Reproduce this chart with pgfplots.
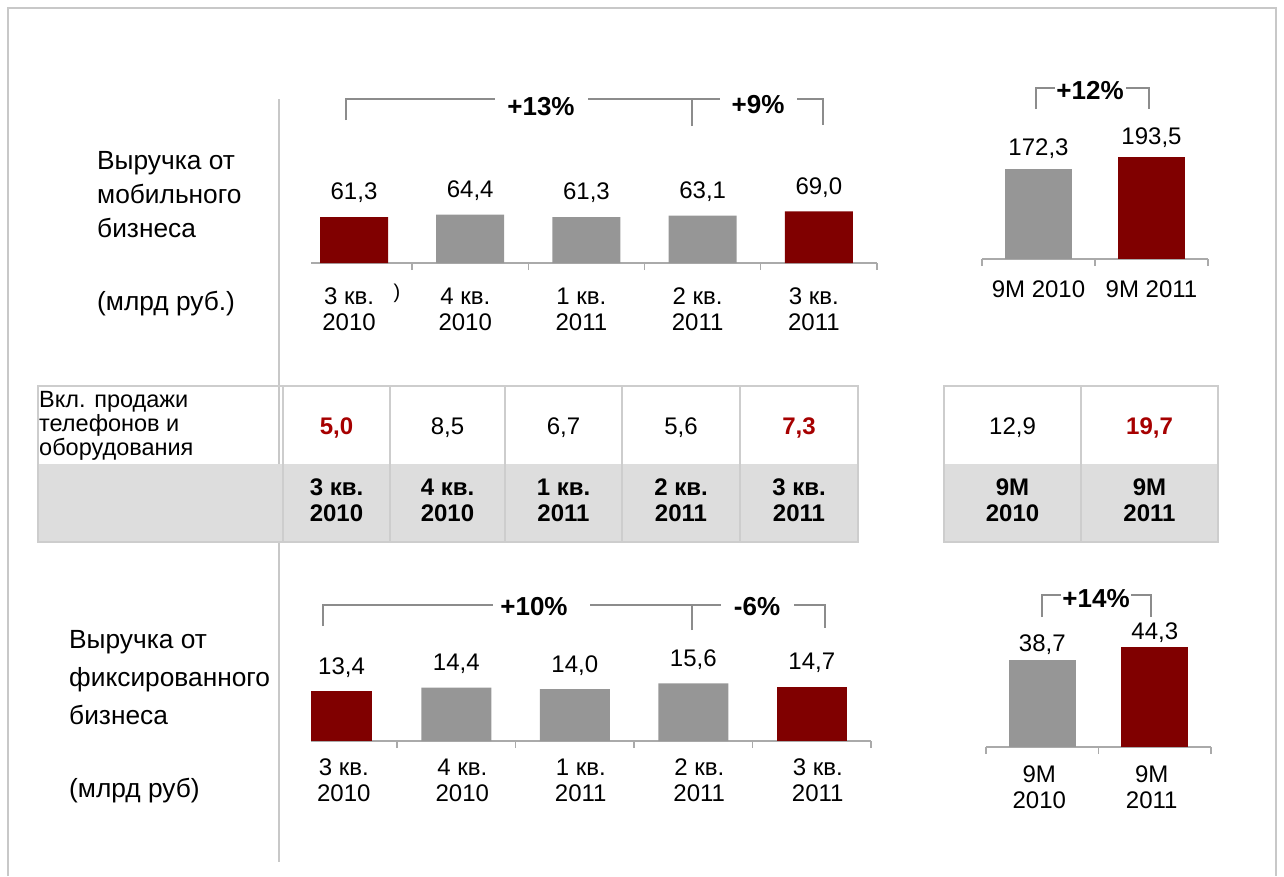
\documentclass[border=0pt]{standalone}
\usepackage{fontspec}
\setmainfont{Liberation Sans}
\usepackage{pgfplots}
\pgfplotsset{compat=1.18}

\definecolor{barred}{RGB}{128,0,0}
\definecolor{bargray}{RGB}{150,150,150}
\definecolor{txtred}{RGB}{166,0,0}
\definecolor{framegray}{RGB}{200,200,200}
\definecolor{axisgray}{RGB}{170,170,170}
\definecolor{brgray}{RGB}{140,140,140}
\definecolor{rowgray}{RGB}{221,221,221}
\definecolor{cellline}{RGB}{205,205,205}

\newcommand\valfont{\fontsize{24}{26}\selectfont}
\newcommand\lblfont{\fontsize{26.3}{30}\selectfont}
\newcommand\tblfont{\fontsize{23.5}{24}\selectfont}
\newcommand\pctfont{\fontsize{26}{28}\selectfont\bfseries}

\pgfplotsset{
  revbars/.style={
    scale only axis, clip=false, anchor=south west,
    ybar, ymin=0, enlargelimits=false,
    axis x line*=bottom, axis y line=none,
    axis line style={axisgray, line width=1.3pt},
    major tick length=0pt, minor tick length=7pt, tick align=outside,
    minor tick style={axisgray, line width=1.3pt},
    xticklabel style={font=\valfont, align=center, inner sep=0pt},
    nodes near coords,
    nodes near coords style={font=\valfont, anchor=center, text=black},
    /pgf/number format/use comma,
    /pgf/number format/fixed,
    /pgf/number format/fixed zerofill,
    /pgf/number format/precision=1,
    /pgf/number format/assume math mode=true,
  },
}

\begin{document}
\begin{tikzpicture}
\useasboundingbox (0pt,0pt) rectangle (1284pt,-876pt);

% mobile, quarters
\begin{axis}[revbars, at={(311pt,-263pt)}, width=566pt, height=75pt,
  xmin=-0.37, xmax=4.5, ymax=100, bar width=68pt,
  xtick={0,...,4}, minor xtick={0.5,1.5,2.5,3.5,4.5},
  xticklabels={{3 кв.\\2010},{4 кв.\\2010},{1 кв.\\2011},{2 кв.\\2011},{3 кв.\\2011}},
  xticklabel style={yshift=-25pt, xshift=-5pt},
  nodes near coords style={yshift=24pt}]
\addplot[fill=barred, draw=none, bar shift=0pt] coordinates {(0,61.3) (4,69.0)};
\addplot[fill=bargray, draw=none, bar shift=0pt] coordinates {(1,64.4) (2,61.3) (3,63.1)};
\end{axis}

% mobile, 9 months
\begin{axis}[revbars, at={(982pt,-259pt)}, width=226pt, height=105pt,
  xmin=-0.5, xmax=1.5, ymax=200, bar width=67pt,
  xtick={0,1}, minor xtick={-0.5,0.5,1.5},
  xticklabels={9M 2010, 9M 2011},
  xticklabel style={yshift=-22pt},
  nodes near coords style={yshift=20pt}]
\addplot[fill=bargray, draw=none, bar shift=0pt] coordinates {(0,172.3)};
\addplot[fill=barred, draw=none, bar shift=0pt] coordinates {(1,193.5)};
\end{axis}

% fixed, quarters
\begin{axis}[revbars, at={(311pt,-741pt)}, width=560pt, height=74pt,
  xmin=-0.226, xmax=4.5, ymax=20, bar width=70pt,
  xtick={0,...,4}, minor xtick={0.5,1.5,2.5,3.5,4.5},
  xticklabels={{3 кв.\\2010},{4 кв.\\2010},{1 кв.\\2011},{2 кв.\\2011},{3 кв.\\2011}},
  xticklabel style={yshift=-18pt, xshift=6pt},
  nodes near coords style={yshift=24pt}]
\addplot[fill=barred, draw=none, bar shift=3.75pt, bar width=61pt] coordinates {(0,13.4)};
\addplot[fill=bargray, draw=none, bar shift=0pt] coordinates {(1,14.4) (2,14.0) (3,15.6)};
\addplot[fill=barred, draw=none, bar shift=0pt] coordinates {(4,14.7)};
\end{axis}

% fixed, 9 months
\begin{axis}[revbars, at={(986pt,-747pt)}, width=225pt, height=112.5pt,
  xmin=-0.5, xmax=1.5, ymax=50, bar width=67pt,
  xtick={0,1}, minor xtick={-0.5,0.5,1.5},
  xticklabels={{9M\\2010},{9M\\2011}},
  xticklabel style={yshift=-19pt, xshift=-3pt},
  nodes near coords style={yshift=15pt}]
\addplot[fill=bargray, draw=none, bar shift=0pt] coordinates {(0,38.7)};
\addplot[fill=barred, draw=none, bar shift=0pt] coordinates {(1,44.3)};
\end{axis}

\begin{scope}[x=1pt, y=-1pt]
% frame and divider
\draw[framegray, line width=2.5pt] (8,876) -- (8,8) -- (1276,8) -- (1276,876);
\draw[framegray, line width=1.5pt] (279,99) -- (279,862);

% row captions
\begin{scope}[every node/.style={anchor=base west, font=\lblfont, inner sep=0pt}]
\node at (97,169) {Выручка от};
\node at (97,203) {мобильного};
\node at (97,237) {бизнеса};
\node at (97,310) {(млрд руб.)};
\node at (69,648) {Выручка от};
\node at (69,686) {фиксированного};
\node at (69,724) {бизнеса};
\node at (69,797) {(млрд руб)};
\end{scope}
\node[anchor=base, font=\fontsize{20}{22}\selectfont, inner sep=0pt] at (397,298) {)};

% table
\fill[rowgray] (38,464) rectangle (858,542);
\fill[rowgray] (944,464) rectangle (1218,542);
\draw[cellline, line width=1.2pt] (38,386) rectangle (858,542);
\draw[cellline, line width=1.2pt] (944,386) rectangle (1218,542);
\foreach \c in {283,390,505,622,740} \draw[cellline, line width=1.2pt] (\c,386) -- (\c,542);
\draw[cellline, line width=1.2pt] (1081,386) -- (1081,542);
\begin{scope}[every node/.style={anchor=base west, font=\tblfont, inner sep=0pt}]
\node at (39,407) {Вкл. продажи};
\node at (39,431) {телефонов и};
\node at (39,455) {оборудования};
\end{scope}
\begin{scope}[every node/.style={anchor=base, font=\valfont, inner sep=0pt}]
\node[font=\valfont\bfseries, text=txtred] at (336.5,434) {5,0};
\node at (447.5,434) {8,5};
\node at (563.5,434) {6,7};
\node at (681,434) {5,6};
\node[font=\valfont\bfseries, text=txtred] at (799,434) {7,3};
\node at (1012.5,434) {12,9};
\node[font=\valfont\bfseries, text=txtred] at (1149.5,434) {19,7};
\end{scope}
\begin{scope}[every node/.style={anchor=base, font=\valfont\bfseries, inner sep=0pt}]
\node at (336.5,495) {3 кв.}; \node at (336.5,521) {2010};
\node at (447.5,495) {4 кв.}; \node at (447.5,521) {2010};
\node at (563.5,495) {1 кв.}; \node at (563.5,521) {2011};
\node at (681,495) {2 кв.};   \node at (681,521) {2011};
\node at (799,495) {3 кв.};   \node at (799,521) {2011};
\node at (1012.5,495) {9M};   \node at (1012.5,521) {2010};
\node at (1149.5,495) {9M};   \node at (1149.5,521) {2011};
\end{scope}

% growth brackets
\begin{scope}[brgray, line width=1.2pt]
\draw (346,120) -- (346,99) -- (495,99);
\draw (588,99) -- (720,99);
\draw (692,126) -- (692,99);
\draw (797,99) -- (823,99) -- (823,125);
\draw (1036,109) -- (1036,88) -- (1055,88);
\draw (1126,88) -- (1149,88) -- (1149,109);
\draw (323,626) -- (323,605) -- (493,605);
\draw (590,605) -- (721,605);
\draw (692,630) -- (692,605);
\draw (794,605) -- (825,605) -- (825,628);
\draw (1042,617) -- (1042,595) -- (1061,595);
\draw (1131,595) -- (1151,595) -- (1151,617);
\end{scope}
\begin{scope}[every node/.style={anchor=base, font=\pctfont, inner sep=0pt}]
\node at (541,115) {+13\%};
\node at (758,113) {+9\%};
\node at (1090,99) {+12\%};
\node at (534,615) {+10\%};
\node at (757,615) {-6\%};
\node at (1096,607) {+14\%};
\end{scope}
\end{scope}
\end{tikzpicture}
\end{document}
